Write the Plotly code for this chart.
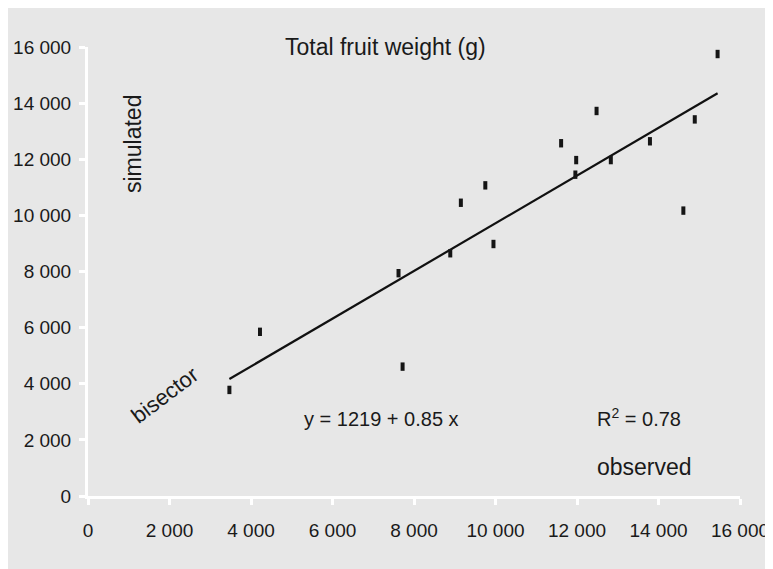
import plotly.graph_objects as go

# Observed vs simulated total fruit weight (g)
observed = [15450, 12480, 14890, 11610, 13790, 11980, 12830, 11960, 9750,
            9150, 14610, 9950, 8890, 7620, 7720, 4220, 3470]
simulated = [15750, 13720, 13420, 12570, 12640, 11970, 11970, 11450, 11070,
             10450, 10170, 8980, 8650, 7940, 4610, 5850, 3780]

intercept = 1219
slope = 0.85

tick_vals = [0, 2000, 4000, 6000, 8000, 10000, 12000, 14000, 16000]
tick_text = ["0", "2 000", "4 000", "6 000", "8 000", "10 000", "12 000", "14 000", "16 000"]

line_x = [min(observed), max(observed)]
line_y = [intercept + slope * v for v in line_x]

font_family = "Liberation Sans, Arial, Helvetica, sans-serif"
ink = "#1a1a1a"
bg = "#e7e7e7"

OFF = 8  # page body margin
W, H = 773 - OFF, 569 - OFF
l, r, t, b = 80, 33, 39, 73
pw, ph = W - l - r, H - t - b

fig = go.Figure()
fig.add_trace(go.Scatter(
    x=line_x, y=line_y, mode="lines",
    line=dict(color="#111111", width=2.2),
    hoverinfo="skip", showlegend=False, cliponaxis=False,
))
fig.add_trace(go.Scatter(
    x=observed, y=simulated, mode="markers",
    marker=dict(symbol="line-ns", size=6, line=dict(color="#151515", width=4)),
    showlegend=False, cliponaxis=False,
))

axis_common = dict(
    range=[0, 16000],
    tickvals=tick_vals,
    ticktext=tick_text,
    showgrid=False,
    zeroline=False,
    showline=True,
    linecolor="white",
    linewidth=3,
    ticks="outside",
    tickcolor="white",
    tickwidth=3,
    ticklen=6,
    tickfont=dict(family=font_family, size=19, color=ink),
    fixedrange=True,
    automargin=False,
)


def ann(text, sx, sy, size, angle=0):
    return dict(
        text=text, xref="paper", yref="paper",
        x=(sx - OFF - l) / pw, y=1 - (sy - OFF - t) / ph,
        xanchor="center", yanchor="middle", textangle=angle,
        showarrow=False, font=dict(family=font_family, size=size, color=ink),
    )


fig.update_layout(
    width=W, height=H,
    margin=dict(l=l, r=r, t=t, b=b, autoexpand=False),
    paper_bgcolor=bg,
    plot_bgcolor=bg,
    xaxis=dict(axis_common, ticklabelstandoff=9),
    yaxis=dict(axis_common, ticklabelstandoff=4),
    font=dict(family=font_family, color=ink),
    annotations=[
        ann("Total fruit weight (g)", 385, 47, 23),
        ann("simulated", 133, 144, 23, -90),
        ann("bisector", 164, 395, 22, -37),
        ann("y = 1219 + 0.85 x", 381, 419, 20),
        ann("R<sup>2</sup> = 0.78", 639, 417, 20),
        ann("observed", 644, 467, 23),
    ],
)

fig.write_html("out.html")
